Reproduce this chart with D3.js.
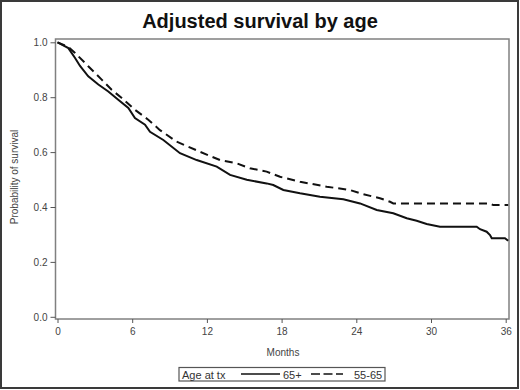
<!DOCTYPE html>
<html>
<head>
<meta charset="utf-8">
<script src="https://cdn.jsdelivr.net/npm/d3@7"></script>
<style>
html,body{margin:0;padding:0;background:#fff;}
svg{display:block;}
</style>
</head>
<body>
<svg id="chart" width="520" height="390"></svg>
<script>
const title = "Adjusted survival by age";
const xLabel = "Months";
const yLabel = "Probability of survival";
const xTicks = [0, 6, 12, 18, 24, 30, 36];
const yTicks = [0.0, 0.2, 0.4, 0.6, 0.8, 1.0];
const legendTitle = "Age at tx";
const seriesNames = ["65+", "55-65"];

const months65 = [0, 0.2, 0.87, 1.41, 1.81, 2.47, 3.28, 4.08, 4.88, 5.69, 6.22, 7.03, 7.43, 8.5, 9.84, 11.18, 12.79, 13.86, 15.2, 16.8, 17.33, 18.14, 19.48, 21.08, 22.96, 24.3, 25.64, 26.97, 28.05, 28.85, 29.65, 30.72, 33.67, 33.94, 34.47, 34.74, 34.88, 35.94, 36.2];
const surv65 = [1.0, 0.995, 0.979, 0.943, 0.914, 0.876, 0.846, 0.821, 0.791, 0.761, 0.724, 0.7, 0.674, 0.644, 0.596, 0.571, 0.547, 0.517, 0.499, 0.486, 0.48, 0.462, 0.45, 0.4375, 0.428, 0.413, 0.389, 0.377, 0.359, 0.35, 0.338, 0.328, 0.328, 0.319, 0.31, 0.298, 0.286, 0.286, 0.277];

const months5565 = [0, 0.87, 1.41, 2.47, 3.55, 4.35, 5.16, 6.22, 7.29, 8.23, 9.57, 11.45, 13.05, 14.39, 15.46, 16.8, 17.87, 19.48, 21.62, 23.49, 24.3, 25.37, 25.9, 26.71, 26.97, 34.74, 35.0, 36.2];
const surv5565 = [1.0, 0.983, 0.961, 0.913, 0.864, 0.827, 0.797, 0.754, 0.718, 0.68, 0.638, 0.601, 0.571, 0.559, 0.541, 0.529, 0.51, 0.492, 0.474, 0.462, 0.45, 0.4375, 0.432, 0.419, 0.413, 0.413, 0.407, 0.407];

const svg = d3.select("#chart");
const font = "'Liberation Sans', Arial, sans-serif";

// outer border
svg.append("rect").attr("x", 1).attr("y", 1).attr("width", 517).attr("height", 387)
  .attr("fill", "#fff").attr("stroke", "#3a3a3a").attr("stroke-width", 2);

const frame = {left: 55.5, right: 509, top: 39, bottom: 319};
const x = d3.scaleLinear().domain([0, 36]).range([57.5, 505.7]);
const y = d3.scaleLinear().domain([0, 1]).range([316.8, 42.3]);

// frame
svg.append("rect").attr("x", frame.left).attr("y", frame.top)
  .attr("width", frame.right - frame.left).attr("height", frame.bottom - frame.top)
  .attr("fill", "none").attr("stroke", "#808080").attr("stroke-width", 1.5);

// axes
const xAxis = svg.append("g").attr("transform", `translate(0,${frame.bottom})`)
  .call(d3.axisBottom(x).tickValues(xTicks).tickSize(4).tickPadding(5).tickFormat(d3.format("d")));
const yAxis = svg.append("g").attr("transform", `translate(${frame.left},0)`)
  .call(d3.axisLeft(y).tickValues(yTicks).tickSize(5).tickPadding(3).tickFormat(d3.format(".1f")));
[xAxis, yAxis].forEach(a => {
  a.select(".domain").remove();
  a.selectAll(".tick line").attr("stroke", "#555").attr("stroke-width", 1);
  a.selectAll(".tick text").attr("fill", "#444").style("font-family", font).style("font-size", "10px");
});

// title
svg.append("text").attr("x", 260).attr("y", 28).attr("text-anchor", "middle")
  .style("font-family", font).style("font-size", "20px").style("font-weight", "bold")
  .attr("fill", "#111").text(title);

svg.append("text").attr("x", 283).attr("y", 356).attr("text-anchor", "middle")
  .style("font-family", font).style("font-size", "10px").attr("fill", "#444").text(xLabel);

svg.append("text").attr("transform", "translate(18,177) rotate(-90)").attr("text-anchor", "middle")
  .style("font-family", font).style("font-size", "10px").attr("fill", "#444").text(yLabel);

// curves
const line = d3.line().x(d => x(d[0])).y(d => y(d[1])).curve(d3.curveLinear);
const data65 = months65.map((m, i) => [m, surv65[i]]);
const data5565 = months5565.map((m, i) => [m, surv5565[i]]);

svg.append("path").datum(data5565).attr("d", line).attr("fill", "none")
  .attr("stroke", "#111").attr("stroke-width", 2).attr("stroke-dasharray", "8,5");
svg.append("path").datum(data65).attr("d", line).attr("fill", "none")
  .attr("stroke", "#111").attr("stroke-width", 2);

// legend
const lg = svg.append("g");
lg.append("rect").attr("x", 179).attr("y", 367.5).attr("width", 206).attr("height", 13.5)
  .attr("fill", "#fff").attr("stroke", "#555").attr("stroke-width", 1.2);
lg.append("text").attr("x", 182).attr("y", 378.5).style("font-family", font).style("font-size", "11px")
  .attr("fill", "#333").text(legendTitle);
lg.append("line").attr("x1", 241).attr("x2", 280).attr("y1", 374).attr("y2", 374)
  .attr("stroke", "#111").attr("stroke-width", 1.5);
lg.append("text").attr("x", 283).attr("y", 378.5).style("font-family", font).style("font-size", "11px")
  .attr("fill", "#333").text(seriesNames[0]);
lg.append("line").attr("x1", 311).attr("x2", 343).attr("y1", 374).attr("y2", 374)
  .attr("stroke", "#111").attr("stroke-width", 1.5).attr("stroke-dasharray", "9,3.5");
lg.append("text").attr("x", 354).attr("y", 378.5).style("font-family", font).style("font-size", "11px")
  .attr("fill", "#333").text(seriesNames[1]);
</script>
</body>
</html>
